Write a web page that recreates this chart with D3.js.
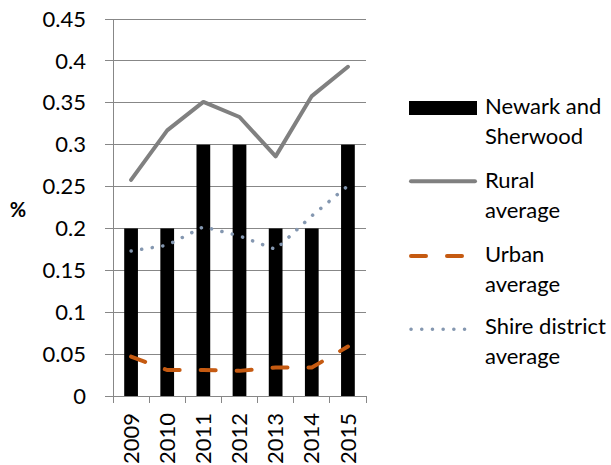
<!DOCTYPE html>
<html><head><meta charset="utf-8">
<script src="https://cdn.jsdelivr.net/npm/d3@7"></script>
<style>body{margin:0;background:#fff}svg{display:block}text{font-family:Lato,"Open Sans",sans-serif}</style>
</head><body><svg id="c" width="611" height="465"></svg>
<script>
const years = ["2009","2010","2011","2012","2013","2014","2015"];
const newark = [0.2,0.2,0.3,0.3,0.2,0.2,0.3];
const rural = [0.258,0.317,0.351,0.333,0.286,0.358,0.393];
const urban = [0.047,0.031,0.031,0.030,0.034,0.034,0.059];
const shire = [0.173,0.180,0.202,0.191,0.175,0.215,0.251];
const yTicks = [0,0.05,0.1,0.15,0.2,0.25,0.3,0.35,0.4,0.45];
const legendLabels = [["Newark and","Sherwood"],["Rural","average"],["Urban","average"],["Shire district","average"]];

const svg = d3.select("#c");
const L=113,R=366,T=19,B=396;
const x = d3.scaleBand().domain(years).range([L,R]);
const y = d3.scaleLinear().domain([0,0.45]).range([B,T]);
const bw = x.bandwidth();
const cx = d=>x(d)+bw/2;
const grid="#878787";

// gridlines
svg.append("g").selectAll("line").data(yTicks).join("line")
 .attr("x1",L-8).attr("x2",R).attr("y1",d=>y(d)).attr("y2",d=>y(d))
 .attr("stroke",grid).attr("stroke-width",1).attr("shape-rendering","crispEdges");
// y axis line
svg.append("line").attr("x1",L).attr("x2",L).attr("y1",T).attr("y2",B).attr("stroke",grid).attr("shape-rendering","crispEdges");
// x ticks
const xb = years.map(d=>x(d)).concat([R]);
svg.append("g").selectAll("line").data(xb).join("line")
 .attr("x1",d=>d).attr("x2",d=>d).attr("y1",B).attr("y2",B+7).attr("stroke",grid).attr("shape-rendering","crispEdges");

// y labels
svg.append("g").selectAll("text").data(yTicks).join("text")
 .attr("x",86).attr("y",d=>y(d)).attr("dy","0.35em").attr("text-anchor","end")
 .attr("font-size",22).attr("fill","#000").text(d=>d3.format("")(d));
svg.append("text").attr("x",18).attr("y",210).attr("dy","0.35em").attr("text-anchor","middle")
 .attr("font-size",20).attr("font-weight","bold").text("%");
// x labels
svg.append("g").selectAll("text").data(years).join("text")
 .attr("transform",d=>`translate(${cx(d)},${B+17}) rotate(-90)`)
 .attr("text-anchor","end").attr("dy","0.35em").attr("font-size",22).text(d=>d);

// bars
const barW = bw*0.38;
svg.append("g").selectAll("rect").data(years).join("rect")
 .attr("x",(d)=>cx(d)-barW/2).attr("width",barW)
 .attr("y",(d,i)=>y(newark[i])).attr("height",(d,i)=>B-y(newark[i])).attr("fill","#000");

const line = d3.line().x((d,i)=>cx(years[i])).y(d=>y(d));
svg.append("path").attr("d",line(rural)).attr("fill","none").attr("stroke","#808080").attr("stroke-width",4).attr("stroke-linejoin","round").attr("stroke-linecap","round");
svg.append("path").attr("d",line(urban)).attr("fill","none").attr("stroke","#C55A11").attr("stroke-width",4).attr("stroke-dasharray","15,21").attr("stroke-linecap","round");
svg.append("path").attr("d",line(shire)).attr("fill","none").attr("stroke","#8497B0").attr("stroke-width",3.5).attr("stroke-dasharray","0.1,10.6").attr("stroke-linecap","round");

// legend
const lg = svg.append("g");
const lx0=409, lx1=477, tx=485;
const swY=[108,181.3,256,329.3];
const textY=[114,188,262,334];
lg.append("rect").attr("x",lx0).attr("y",101).attr("width",lx1-lx0).attr("height",14).attr("fill","#000");
lg.append("line").attr("x1",lx0+2).attr("x2",lx1-2).attr("y1",swY[1]).attr("y2",swY[1]).attr("stroke","#808080").attr("stroke-width",4).attr("stroke-linecap","round");
lg.append("line").attr("x1",lx0+2).attr("x2",lx1-2).attr("y1",swY[2]).attr("y2",swY[2]).attr("stroke","#C55A11").attr("stroke-width",4).attr("stroke-dasharray","15,21").attr("stroke-linecap","round");
lg.append("line").attr("x1",lx0+2).attr("x2",lx1-2).attr("y1",swY[3]).attr("y2",swY[3]).attr("stroke","#8497B0").attr("stroke-width",3.5).attr("stroke-dasharray","0.1,10.6").attr("stroke-linecap","round");
legendLabels.forEach((ls,i)=>{
  ls.forEach((t,j)=>{
    lg.append("text").attr("x",tx).attr("y",textY[i]+j*30).attr("font-size",22).text(t);
  });
});
</script></body></html>
